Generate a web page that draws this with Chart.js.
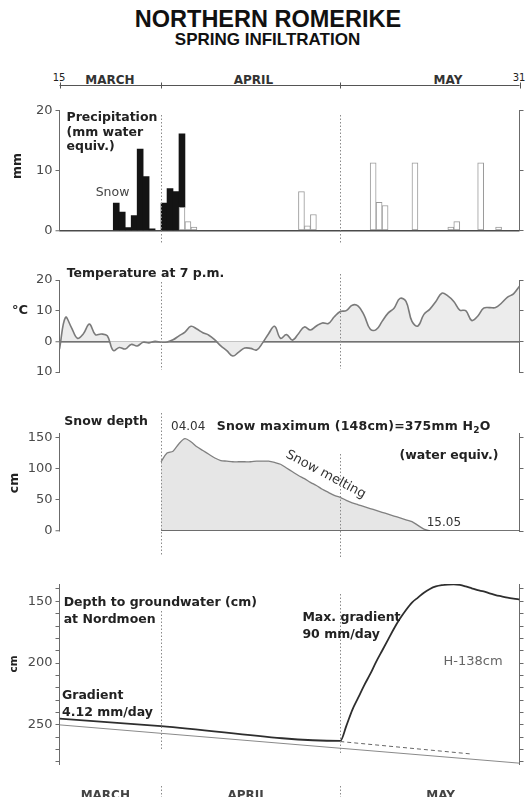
<!DOCTYPE html>
<html lang="en">
<head>
<meta charset="UTF-8">
<title>Northern Romerike - Spring infiltration</title>
<script src="https://cdn.jsdelivr.net/npm/chart.js@4"></script>
<style>
  body { margin: 0; background: #fff; }
  #page { position: relative; width: 531px; height: 797px; overflow: hidden; font-family: 'DejaVu Sans', sans-serif; color: #222; }
  canvas { position: absolute; left: 0; }
  .lbl { position: absolute; white-space: nowrap; }
  .c { transform: translateX(-50%); }
  .rot { transform: translate(-50%, -50%) rotate(-90deg); line-height: 1; font-weight: bold; }
  .title { font-family: 'Liberation Sans', Arial, sans-serif; font-weight: bold; color: #111; }
  .mon { font-weight: bold; font-size: 12px; line-height: 14px; color: #333; }
  .note { font-weight: bold; font-size: 12.5px; line-height: 14.5px; }
  .reg { font-size: 12.5px; line-height: 14px; color: #333; }
  sub { font-size: 9px; line-height: 0; vertical-align: -3px; }
</style>
</head>
<body>
<div id="page">
  <div class="lbl title c" style="left:268px; top:6px; font-size:23.5px; line-height:26px;">NORTHERN ROMERIKE</div>
  <div class="lbl title c" style="left:267.5px; top:30px; font-size:17px; line-height:20px;">SPRING INFILTRATION</div>

  <div class="lbl c" style="left:59px; top:73px; font-size:10px; line-height:10px;">15</div>
  <div class="lbl c" style="left:519px; top:73px; font-size:10px; line-height:10px;">31</div>
  <div class="lbl c mon" style="left:110px; top:73px;">MARCH</div>
  <div class="lbl c mon" style="left:253.5px; top:73px;">APRIL</div>
  <div class="lbl c mon" style="left:448px; top:73px;">MAY</div>

  <canvas id="precip" width="531" height="190" style="top:60px"></canvas>
  <canvas id="temp" width="531" height="130" style="top:255px"></canvas>
  <canvas id="snow" width="531" height="165" style="top:400px"></canvas>
  <canvas id="gw" width="531" height="227" style="top:570px"></canvas>

  <!-- precipitation panel -->
  <div class="lbl rot" style="left:16.5px; top:166px; font-size:12.5px;">mm</div>
  <div class="lbl note" style="left:66.5px; top:110px; line-height:14.7px;">Precipitation<br>(mm water<br>equiv.)</div>
  <div class="lbl reg" style="left:95.7px; top:185px; color:#444;">Snow</div>

  <!-- temperature panel -->
  <div class="lbl" style="left:12px; top:302px; font-size:13px; line-height:15px; font-weight:bold;">°C</div>
  <div class="lbl note" style="left:66.7px; top:265.7px;">Temperature at 7 p.m.</div>

  <!-- snow panel -->
  <div class="lbl rot" style="left:14.3px; top:483px; font-size:12.5px;">cm</div>
  <div class="lbl note" style="left:64.3px; top:414.2px;">Snow depth</div>
  <div class="lbl reg" style="left:171px; top:419px; font-size:12px;">04.04</div>
  <div class="lbl note" style="left:216.7px; top:418.7px; letter-spacing:0.2px;">Snow maximum (148cm)=375mm H<sub>2</sub>O</div>
  <div class="lbl note" style="left:399.6px; top:447.7px;">(water equiv.)</div>
  <div class="lbl reg" style="left:326px; top:474px; font-size:13px; transform:translate(-50%,-50%) rotate(28deg);">Snow melting</div>
  <div class="lbl reg" style="left:426.7px; top:515px; font-size:12px;">15.05</div>

  <!-- groundwater panel -->
  <div class="lbl rot" style="left:13.2px; top:664px; font-size:10.5px;">cm</div>
  <div class="lbl note" style="left:63.7px; top:593px; line-height:17px;">Depth to groundwater (cm)<br>at Nordmoen</div>
  <div class="lbl note" style="left:302.4px; top:607.7px; line-height:17.5px;">Max. gradient<br>90 mm/day</div>
  <div class="lbl reg" style="left:443.6px; top:652.5px; font-size:13px; line-height:15px; color:#666;">H-138cm</div>
  <div class="lbl note" style="left:62px; top:685.5px; line-height:17px;">Gradient<br>4.12 mm/day</div>

  <div class="lbl c mon" style="left:105.3px; top:788px; color:#444;">MARCH</div>
  <div class="lbl c mon" style="left:247.2px; top:788px; color:#444;">APRIL</div>
  <div class="lbl c mon" style="left:440.6px; top:788px; color:#444;">MAY</div>
</div>

<script>
// days counted from 15 March (day 0): 1 April = 17, 1 May = 47, 31 May = 77
const monthStarts = [0, 17, 47, 77];
const APRIL_1 = 17, MAY_1 = 47;

// precipitation, mm water equivalent (bar covers the whole day)
const snowfallDays = [9, 10, 11, 12, 13, 14, 15, 17, 18, 19, 20];
const snowfallMm = [4.6, 3.1, 0.5, 2.5, 13.6, 9.0, 0.3, 4.6, 7.0, 6.5, 12.2];
const rainDays = [20, 21, 22, 40, 41, 42, 52, 53, 54, 59, 65, 66, 70, 73];
const rainMm = [3.9, 1.5, 0.6, 6.5, 0.8, 2.7, 11.3, 4.7, 4.2, 11.3, 0.6, 1.5, 11.3, 0.6];

// temperature at 7 p.m., one value per day (day 0..77)
const tempC = [
  -2.5, 7.8, 4.5, 1.0, 2.5, 5.6, 2.2, 2.4, 1.8, -3.0,
  -2.0, -2.5, -1.0, -1.5, -0.3, -0.5, 0.0, -0.3, -0.2, 0.5,
  1.8, 3.0, 4.9, 4.0, 2.8, 2.0, 0.5, -1.5, -3.0, -4.8,
  -3.5, -2.2, -2.3, -2.8, -0.5, 2.5, 4.9, 1.0, 2.2, 0.4,
  2.5, 4.7, 3.7, 5.0, 6.0, 5.8, 8.0, 9.7, 10.0, 11.8,
  11.5, 8.5, 4.0, 3.8, 6.5, 9.2, 10.8, 14.0, 13.0, 6.5,
  5.0, 8.8, 10.5, 13.0, 15.7, 14.8, 13.0, 10.2, 10.0, 6.8,
  8.2, 10.8, 11.0, 11.0, 12.5, 14.4, 15.5, 18.0
];

// snow depth, cm
const snowDepthDays = [17, 18, 19, 20, 21, 22, 23, 24, 25, 26, 27, 28, 29, 30, 31, 32, 33, 34, 35, 36,
  37, 38, 39, 40, 41, 42, 43, 44, 45, 46, 47, 48, 49, 50, 51, 52, 53, 54, 55, 56, 57, 58, 59, 60, 61, 62];
const snowDepthCm = [111, 125, 128, 140, 148, 143, 135, 129, 123, 117, 113, 112, 111, 111, 111, 111, 112, 112, 112, 110,
  107, 101, 95, 89, 84, 78, 73, 67, 62, 57, 54, 49, 45, 42, 39, 36, 33, 30, 27, 24, 21, 18, 15, 9, 3, 0];

// depth to groundwater at Nordmoen, cm below surface
const gwDays = [0, 17, 47, 48, 49, 50, 51, 52, 53, 54, 55, 56, 57, 58, 59, 60, 61, 62,
  63, 64, 65, 66, 67, 68, 69, 70, 71, 72, 73, 74, 75, 76, 77];
const gwDepthCm = [245, 251, 263, 251, 238, 228, 218, 209, 199, 190, 181, 172, 164, 157, 151, 147, 143, 140,
  138, 137, 136.5, 136.3, 136.8, 138, 139.5, 141, 142, 143.5, 145, 146, 147, 147.8, 148.5];
const gwTrendDays = [0, 77];
const gwTrendCm = [250, 281];
const gwProjDays = [47, 69];
const gwProjCm = [263.5, 273.6];

const xy = (xs, ys, shift = 0) => xs.map((d, i) => ({ x: d + shift, y: ys[i] }));

const LEFT_W = 59.5, RIGHT_W = 11.5;
const AXIS = '#6b6b6b';

const dividerPlugin = {
  id: 'dividers',
  afterDatasetsDraw(chart, args, opts) {
    const x = chart.scales.x, ctx = chart.ctx;
    ctx.save();
    ctx.strokeStyle = '#8a8a8a';
    ctx.lineWidth = 1;
    ctx.setLineDash([1.5, 2]);
    (opts.lines || []).forEach(l => {
      const px = Math.round(x.getPixelForValue(l.day)) + 0.5;
      ctx.beginPath();
      ctx.moveTo(px, l.y0);
      ctx.lineTo(px, l.y1);
      ctx.stroke();
    });
    ctx.restore();
  }
};

const headerPlugin = {
  id: 'monthHeader',
  afterDraw(chart, args, opts) {
    const x = chart.scales.x, ctx = chart.ctx, y = opts.y;
    ctx.save();
    ctx.strokeStyle = '#555';
    ctx.lineWidth = 1;
    ctx.beginPath();
    ctx.moveTo(x.getPixelForValue(monthStarts[0]), y);
    ctx.lineTo(x.getPixelForValue(monthStarts[monthStarts.length - 1]), y);
    monthStarts.forEach(d => {
      const px = Math.round(x.getPixelForValue(d)) + 0.5;
      ctx.moveTo(px, y - 3);
      ctx.lineTo(px, y + 3);
    });
    ctx.stroke();
    ctx.restore();
  }
};

function xScale(stacked) {
  return { type: 'linear', min: 0, max: 77, display: false, offset: false, stacked: !!stacked };
}

function leftAxis(min, max, step, extra = {}) {
  return {
    type: 'linear', position: 'left', min, max,
    reverse: !!extra.reverse, stacked: !!extra.stacked,
    afterFit: s => { s.width = LEFT_W; s.paddingTop = 0; s.paddingBottom = 0; },
    border: { color: AXIS, width: 1 },
    grid: {
      drawOnChartArea: !!extra.zeroLine,
      color: c => (c.tick && c.tick.value === 0) ? '#4a4a4a' : 'rgba(0,0,0,0)',
      lineWidth: c => (c.tick && c.tick.value === 0) ? 1.5 : 1,
      tickLength: 4, tickColor: AXIS, tickWidth: 1
    },
    ticks: {
      stepSize: step, includeBounds: false, autoSkip: false, padding: 3, color: '#4a4a4a',
      font: { family: 'DejaVu Sans', size: 13 },
      callback: extra.label || (v => v)
    }
  };
}

function rightAxis(min, max, step, reverse) {
  return {
    type: 'linear', position: 'right', min, max, reverse: !!reverse,
    afterFit: s => { s.width = RIGHT_W; s.paddingTop = 0; s.paddingBottom = 0; },
    border: { color: AXIS, width: 1 },
    grid: { drawOnChartArea: false, tickLength: 4, tickColor: AXIS, tickWidth: 1 },
    ticks: { display: false, stepSize: step, includeBounds: false, autoSkip: false }
  };
}

function makeChart(id, type, datasets, scales, padding, dividers, header) {
  return new Chart(document.getElementById(id), {
    type,
    data: { datasets },
    options: {
      responsive: false, animation: false, devicePixelRatio: 1, events: [],
      layout: { padding },
      scales,
      plugins: {
        legend: { display: false },
        tooltip: { enabled: false },
        dividers: { lines: dividers },
        monthHeader: header || false
      }
    },
    plugins: [dividerPlugin, headerPlugin]
  });
}

// precipitation
makeChart('precip', 'bar', [
  { type: 'bar', data: xy(rainDays, rainMm, 0.5), backgroundColor: '#fff', borderColor: '#9a9a9a',
    borderWidth: 1, borderSkipped: false, barPercentage: 1, categoryPercentage: 1 },
  { type: 'bar', data: xy(snowfallDays, snowfallMm, 0.5), backgroundColor: '#141414',
    borderWidth: 0, barPercentage: 1, categoryPercentage: 1 }
], {
  x: xScale(true),
  y: leftAxis(0, 20, 10, { stacked: true, zeroLine: true }),
  yR: rightAxis(0, 20, 10)
}, { top: 50.5, bottom: 19.3, left: 0, right: 0 },
[{ day: APRIL_1, y0: 55, y1: 184 }, { day: MAY_1, y0: 55, y1: 184 }],
{ y: 25.5 });

// temperature
makeChart('temp', 'line', [
  { data: xy(tempC.map((_, i) => i), tempC), borderColor: '#7a7a7a', borderWidth: 1.6,
    backgroundColor: '#ececec', fill: 'origin', tension: 0.4, pointRadius: 0 }
], {
  x: xScale(),
  y: leftAxis(-10, 20, 10, { zeroLine: true, label: v => Math.abs(v) }),
  yR: rightAxis(-10, 20, 10)
}, { top: 25, bottom: 13, left: 0, right: 0 },
[{ day: APRIL_1, y0: 27, y1: 115 }, { day: MAY_1, y0: 19, y1: 114 }]);

// snow depth
makeChart('snow', 'line', [
  { data: xy([APRIL_1, monthStarts[3]], [0, 0]), borderColor: '#444', borderWidth: 1.5, pointRadius: 0 },
  { data: xy(snowDepthDays, snowDepthCm), borderColor: '#808080', borderWidth: 1.3,
    backgroundColor: '#e6e6e6', fill: 'origin', tension: 0.3, pointRadius: 0 }
], {
  x: xScale(),
  y: leftAxis(0, 156, 50),
  yR: rightAxis(0, 156, 50)
}, { top: 33.7, bottom: 34, left: 0, right: 0 },
[{ day: APRIL_1, y0: 13, y1: 156 }, { day: MAY_1, y0: 54, y1: 157 }]);

// groundwater
makeChart('gw', 'line', [
  { data: xy(gwDays, gwDepthCm), borderColor: '#2e2e2e', borderWidth: 1.8,
    cubicInterpolationMode: 'monotone', pointRadius: 0 },
  { data: xy(gwTrendDays, gwTrendCm), borderColor: '#8a8a8a', borderWidth: 1, pointRadius: 0 },
  { data: xy(gwProjDays, gwProjCm), borderColor: '#666', borderWidth: 1, borderDash: [4, 3], pointRadius: 0 }
], {
  x: xScale(),
  y: leftAxis(136, 282, 10, { reverse: true, label: v => (v % 50 === 0 ? v : '') }),
  yR: rightAxis(136, 282, 10, true)
}, { top: 14, bottom: 32.6, left: 0, right: 0 },
[{ day: APRIL_1, y0: 41, y1: 181 }, { day: MAY_1, y0: 24, y1: 183 },
 { day: APRIL_1, y0: 216, y1: 227 }, { day: MAY_1, y0: 216, y1: 227 }]);
</script>
</body>
</html>
